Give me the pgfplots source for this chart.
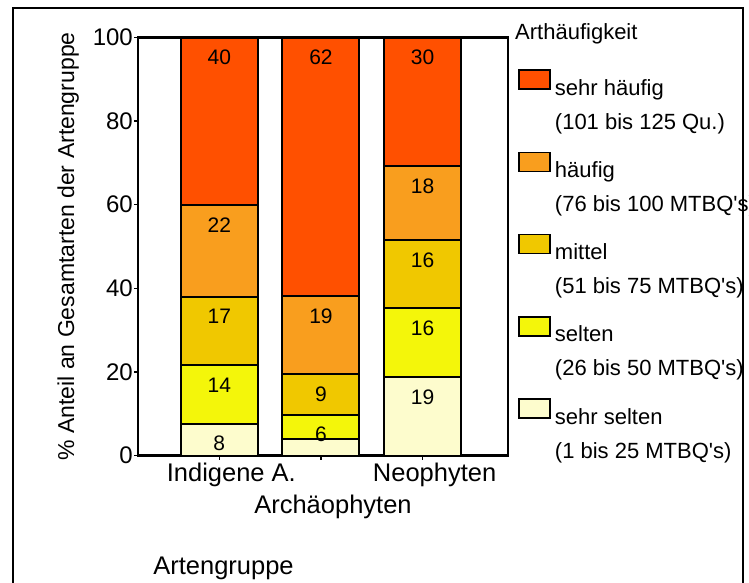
\documentclass[border=0pt]{standalone}
\usepackage{fontspec}
\setmainfont{Liberation Sans}[Ligatures=ResetAll]
\usepackage{pgfplots}
\pgfplotsset{compat=1.18}
\definecolor{c1}{RGB}{253,252,205}
\definecolor{c2}{RGB}{244,246,10}
\definecolor{c3}{RGB}{240,200,0}
\definecolor{c4}{RGB}{249,158,30}
\definecolor{c5}{RGB}{255,80,0}
\newcommand\fa{\fontsize{22pt}{26pt}\selectfont}
\newcommand\fy{\fontsize{24pt}{28pt}\selectfont}
\newcommand\fl{\fontsize{23pt}{27pt}\selectfont}
\newcommand\fb{\fontsize{21pt}{25pt}\selectfont}
\newcommand\fx{\fontsize{25.5pt}{30pt}\selectfont}
\newcommand\two[2]{\rlap{#1}\smash{\raisebox{-34pt}{#2}}}
\newcommand\q{\textquotesingle}
\begin{document}
\begin{tikzpicture}
\useasboundingbox (0pt,0pt) rectangle (749pt,-583pt);
\draw[line width=2pt] (12.5pt,-600pt) -- (12.5pt,-8.5pt) -- (742.5pt,-8.5pt) -- (742.5pt,-600pt);
\node[anchor=base west, font=\fa, inner sep=0pt] at (515pt,-39.5pt) {Arthäufigkeit};
\node[anchor=base, font=\fx, inner sep=0pt] at (223.5pt,-574pt) {Artengruppe};
\begin{axis}[
  at={(138pt,-455.5pt)}, anchor=south west,
  scale only axis, width=370pt, height=418pt,
  ybar stacked, bar width=77pt,
  xmin=-0.80, xmax=2.84, ymin=0, ymax=100,
  axis line style={line width=2.5pt},
  every tick/.style={black, line width=1.5pt},
  tick align=outside, major tick length=4pt,
  xtick={0,2}, xticklabels={Indigene A., Neophyten},
  extra x ticks={1}, extra x tick labels={Archäophyten},
  extra x tick style={grid=none, xticklabel style={yshift=-31.5pt}},
  ytick={0,20,40,60,80,100},
  xtick pos=bottom, ytick pos=left,
  /pgf/number format/assume math mode=true,
  yticklabel style={font=\fy, inner sep=1pt},
  xticklabel style={font=\fx, xshift=12pt},
  ylabel={\% Anteil an Gesamtarten der Artengruppe},
  ylabel style={font=\fl, at={(axis description cs:-0.189,0.5)}, anchor=center},
  nodes near coords, point meta=explicit symbolic,
  visualization depends on={rawy \as \segh},
  every node near coord/.append style={font=\fb, anchor=center, yshift=\segh*2.09pt-20pt, black},
  every axis plot post/.append style={legend image code/.code={\draw[##1, draw=black, line width=1.5pt] (0pt,6pt) rectangle (31pt,25pt);}},
  legend style={at={(rel axis cs:1.0277,0.924)}, anchor=north west, draw=none, fill=none, inner sep=0pt, font=\fa, row sep=51.5pt, column sep=4pt, nodes={inner sep=0pt, anchor=base west, text height=16pt, text depth=5pt}, cells={anchor=base west}},
  reverse legend,
  clip=false,
]
\addplot[fill=c1, draw=black, line width=2pt] coordinates {(0,7.6) [8] (1,4.0) [{}] (2,18.7) [19]};
\addlegendentry{\two{sehr selten}{(1 bis 25 MTBQ\q s)}}
\addplot[fill=c2, draw=black, line width=2pt] coordinates {(0,14.1) [14] (1,5.8) [6] (2,16.5) [16]};
\addlegendentry{\two{selten}{(26 bis 50 MTBQ\q s)}}
\addplot[fill=c3, draw=black, line width=2pt] coordinates {(0,16.3) [17] (1,9.6) [9] (2,16.4) [16]};
\addlegendentry{\two{mittel}{(51 bis 75 MTBQ\q s)}}
\addplot[fill=c4, draw=black, line width=2pt] coordinates {(0,22.0) [22] (1,18.8) [19] (2,17.7) [18]};
\addlegendentry{\two{häufig}{(76 bis 100 MTBQ\q s)}}
\addplot[fill=c5, draw=black, line width=2pt] coordinates {(0,40.0) [40] (1,61.8) [62] (2,30.7) [30]};
\addlegendentry{\two{sehr häufig}{(101 bis 125 Qu.)}}
\end{axis}
\end{tikzpicture}
\end{document}
